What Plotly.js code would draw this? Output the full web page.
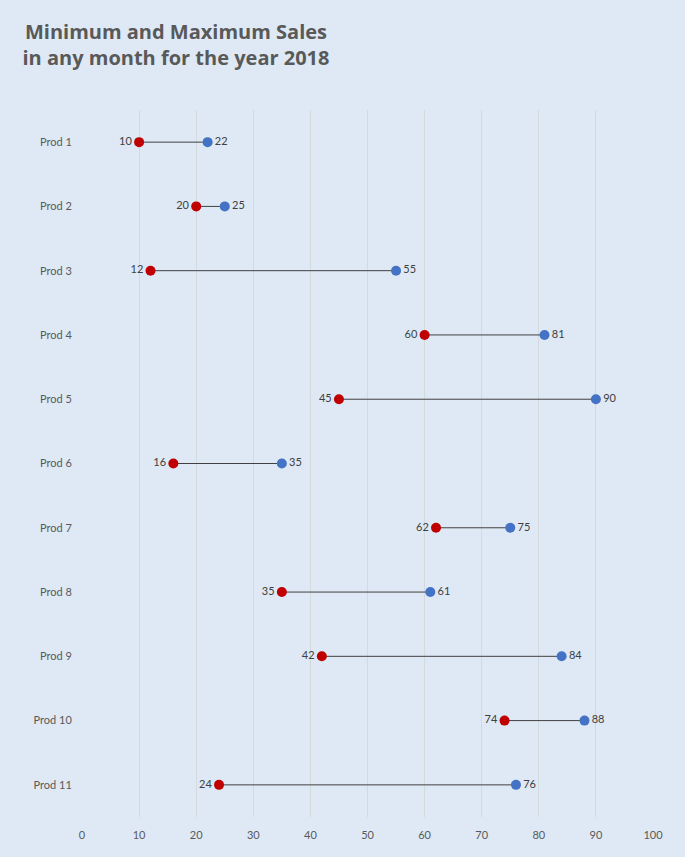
<!DOCTYPE html>
<html>
<head>
<meta charset="utf-8">
<script src="https://cdn.plot.ly/plotly-3.0.1.min.js"></script>
<style>
  html, body { margin: 0; padding: 0; background: #dee9f5; }
  #chart { width: 685px; height: 857px; }
</style>
</head>
<body>
<div id="chart"></div>
<script>
// Min / max monthly sales per product, 2018
const products = ["Prod 1", "Prod 2", "Prod 3", "Prod 4", "Prod 5", "Prod 6",
  "Prod 7", "Prod 8", "Prod 9", "Prod 10", "Prod 11"];
const minSales = [10, 20, 12, 60, 45, 16, 62, 35, 42, 74, 24];
const maxSales = [22, 25, 55, 81, 90, 35, 75, 61, 84, 88, 76];
const xTicks = [0, 10, 20, 30, 40, 50, 60, 70, 80, 90, 100];

const COLORS = {
  min: "#c00000",
  max: "#4472c4",
  line: "#404040",
  grid: "#d4d9de",
  text: "#595959",
  bg: "#dee9f5",
};

const LABEL_FONT = { family: "Lato, 'Open Sans', sans-serif", size: 11, color: "#404040" };

// connector segments: min -> max, separated by nulls
const segX = [];
const segY = [];
products.forEach((p, i) => {
  segX.push(minSales[i], maxSales[i], null);
  segY.push(p, p, null);
});

const traces = [
  {
    type: "scatter", mode: "lines", name: "range",
    x: segX, y: segY,
    line: { color: COLORS.line, width: 1 },
    hoverinfo: "skip",
  },
  {
    type: "scatter", mode: "markers+text", name: "Min",
    x: minSales, y: products,
    marker: { color: COLORS.min, size: 10 },
    text: minSales.map(String),
    textposition: "middle left",
    textfont: LABEL_FONT,
    cliponaxis: false,
  },
  {
    type: "scatter", mode: "markers+text", name: "Max",
    x: maxSales, y: products,
    marker: { color: COLORS.max, size: 10 },
    text: maxSales.map(String),
    textposition: "middle right",
    textfont: LABEL_FONT,
    cliponaxis: false,
  },
];

const layout = {
  width: 685, height: 857,
  paper_bgcolor: COLORS.bg,
  plot_bgcolor: COLORS.bg,
  showlegend: false,
  margin: { t: 110, r: 32, b: 40, l: 82 },
  font: { family: "Lato, 'Open Sans', sans-serif", size: 11, color: COLORS.text },
  title: {
    text: "Minimum and Maximum Sales<br>in any month for the year 2018",
    font: { family: "'Open Sans', sans-serif", size: 20, color: COLORS.text, weight: "bold" },
    x: 176 / 685, xanchor: "center", xref: "container",
    y: 1 - 39 / 857, yanchor: "top", yref: "container",
  },
  xaxis: {
    range: [0, 100],
    tickvals: xTicks,
    ticktext: xTicks.map(String),
    showgrid: true,
    gridcolor: COLORS.grid,
    gridwidth: 1,
    zeroline: false,
    showline: false,
    ticks: "outside", ticklen: 8, tickcolor: "rgba(0,0,0,0)",
    tickfont: { size: 11, color: COLORS.text },
    fixedrange: true,
  },
  yaxis: {
    type: "category",
    categoryorder: "array",
    categoryarray: products,
    range: [products.length - 0.5, -0.5],
    showgrid: false,
    zeroline: false,
    showline: false,
    ticks: "outside", ticklen: 7, tickcolor: "rgba(0,0,0,0)",
    tickfont: { size: 11, color: COLORS.text },
    fixedrange: true,
  },
};

Plotly.newPlot("chart", traces, layout, { displayModeBar: false, staticPlot: true });
</script>
</body>
</html>
